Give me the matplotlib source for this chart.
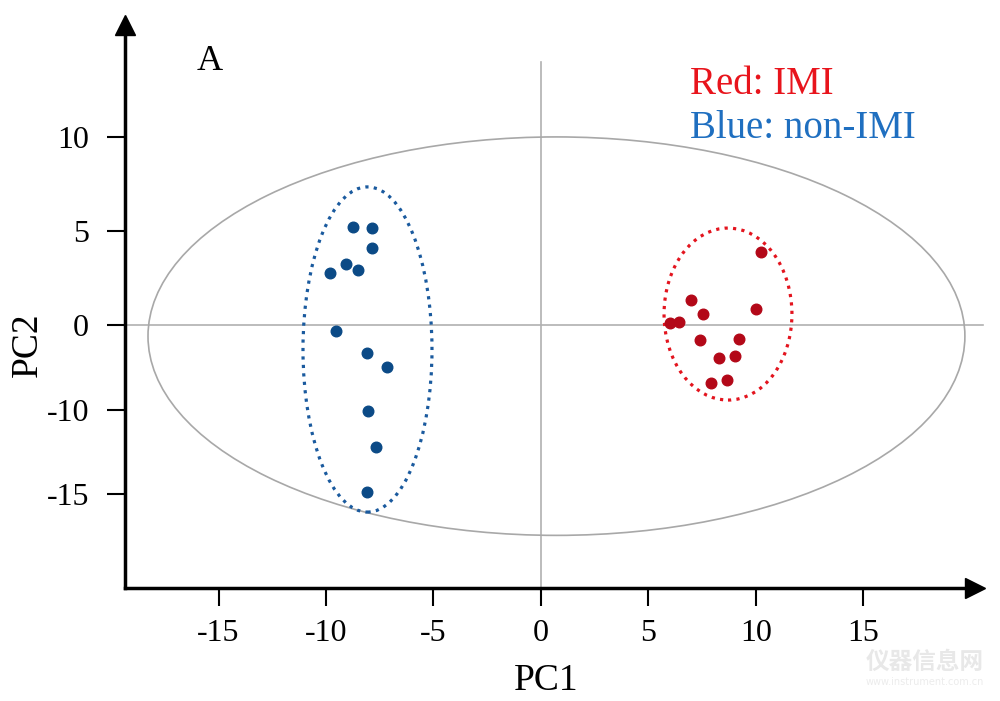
import numpy as np
import matplotlib.pyplot as plt
from matplotlib.patches import Ellipse

# PCA scores (x in PC1 units, y in plot units)
blue_x = [-8.73, -7.86, -7.85, -9.08, -8.52, -9.80, -9.53, -8.09, -7.16, -8.03, -7.67, -8.09]
blue_y = [5.24, 5.15, 4.08, 3.23, 2.91, 2.77, -0.34, -1.50, -2.21, -4.56, -6.47, -8.88]
red_x = [10.22, 6.98, 7.53, 9.99, 6.00, 6.42, 7.41, 9.22, 8.28, 9.01, 7.92, 8.65]
red_y = [3.87, 1.31, 0.60, 0.87, 0.09, 0.14, -0.82, -0.76, -1.76, -1.65, -3.07, -2.93]

xticks = [-15, -10, -5, 0, 5, 10, 15]
ytick_pos = [10, 5, 0, -4.5, -9]
ytick_labels = ['10', '5', '0', '-10', '-15']

plt.rcParams['font.family'] = ['Liberation Serif', 'Noto Sans CJK SC', 'DejaVu Sans']

fig = plt.figure(figsize=(10, 7.01), dpi=100)
ax = fig.add_axes([0.125, 0.1612, 0.85, 0.803])
ax.set_xlim(-19.35, 20.19)
ax.set_ylim(-13.99, 15.96)

# crosshair and Hotelling ellipse
ax.plot([-19.35, 20.56], [0, 0], color='#b0b0b0', lw=1.2, zorder=1, clip_on=False)
ax.plot([0, 0], [-13.99, 14.0], color='#b0b0b0', lw=1.2, zorder=1)
ax.add_patch(Ellipse((0.72, -0.59), 38.0, 21.2, fill=False, ec='#a8a8a8', lw=1.2))

# group ellipses
ax.add_patch(Ellipse((-8.07, -1.3), 6.0, 17.3, fill=False, ec='#1a5a9e', lw=2.3, ls=':'))
ax.add_patch(Ellipse((8.7, 0.585), 5.95, 9.15, fill=False, ec='#e3141e', lw=2.3, ls=':'))

ax.scatter(blue_x, blue_y, s=58, color='#0b4a86', zorder=3)
ax.scatter(red_x, red_y, s=58, color='#b30818', zorder=3)

# axes with arrows
for s in ['top', 'right']:
    ax.spines[s].set_visible(False)
ax.spines['left'].set_linewidth(2.5)
ax.spines['bottom'].set_linewidth(2.5)
ax.plot(1, 0, '>k', ms=14, transform=ax.transAxes, clip_on=False)
ax.plot(0, 1, '^k', ms=14, transform=ax.transAxes, clip_on=False)

ax.set_xticks(xticks)
ax.set_xticklabels([str(v) for v in xticks])
ax.set_yticks(ytick_pos)
ax.set_yticklabels(ytick_labels)
ax.tick_params(axis='both', direction='out', length=13, width=1.5, labelsize=23)
ax.tick_params(axis='x', pad=9)
ax.tick_params(axis='y', pad=13)

fig.text(0.546, 1 - 681 / 701, 'PC1', ha='center', va='center', fontsize=27)
fig.text(0.028, 1 - 345 / 701, 'PC2', ha='center', va='center', fontsize=27, rotation=90)
fig.text(0.210, 1 - 62 / 701, 'A', ha='center', va='center', fontsize=26)
fig.text(0.690, 1 - 84 / 701, 'Red: IMI', ha='left', va='center', fontsize=28, color='#e8141c')
fig.text(0.690, 1 - 128 / 701, 'Blue: non-IMI', ha='left', va='center', fontsize=28, color='#1f6fc0')

# faint watermark
fig.text(0.925, 1 - 662 / 701, '仪器信息网', ha='center', va='center', fontsize=17,
         color='#e8e8e8', family=['Noto Sans CJK SC', 'DejaVu Sans'], weight='bold')
fig.text(0.925, 1 - 682 / 701, 'www.instrument.com.cn', ha='center', va='center', fontsize=7,
         color='#ececec', family=['DejaVu Sans'])

fig.savefig('out.png', dpi=100)
